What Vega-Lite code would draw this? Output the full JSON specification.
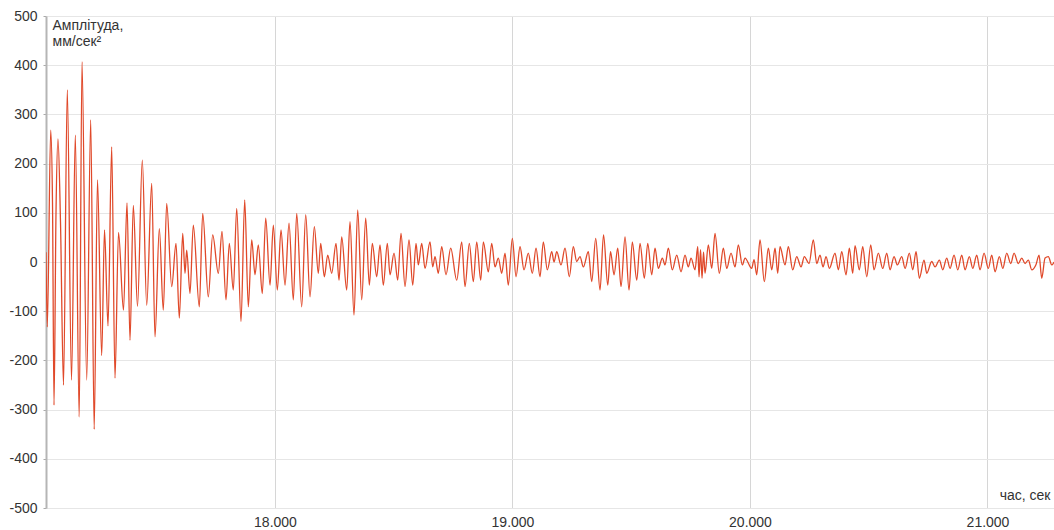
{
  "$schema": "https://vega.github.io/schema/vega-lite/v6.json",
  "width": 1008,
  "height": 492,
  "autosize": {"type": "none"},
  "padding": {"left": 46, "top": 16, "right": 0, "bottom": 22},
  "background": "#ffffff",
  "config": {
    "view": {"stroke": null},
    "font": "Liberation Sans",
    "axis": {"labelFont": "Liberation Sans", "titleFont": "Liberation Sans", "labelFontSize": 14, "labelColor": "#333333", "titleColor": "#333333", "titleFontWeight": "normal", "titleFontSize": 14}
  },
  "data": {"values": [
    {"t":17.0360,"v":20},{"t":17.0415,"v":-132},{"t":17.0558,"v":268},{"t":17.0634,"v":120},{"t":17.0697,"v":-291},
    {"t":17.0781,"v":100},{"t":17.0865,"v":250},{"t":17.0971,"v":80},{"t":17.1097,"v":-250},{"t":17.1257,"v":350},
    {"t":17.1434,"v":-240},{"t":17.1594,"v":258},{"t":17.1758,"v":-315},{"t":17.1876,"v":407},{"t":17.2074,"v":-240},
    {"t":17.2242,"v":289},{"t":17.2389,"v":-340},{"t":17.2528,"v":167},{"t":17.2705,"v":-190},{"t":17.2823,"v":65},
    {"t":17.2971,"v":-130},{"t":17.3126,"v":234},{"t":17.3265,"v":-236},{"t":17.3413,"v":60},{"t":17.3623,"v":-98},
    {"t":17.3771,"v":120},{"t":17.3897,"v":-159},{"t":17.4036,"v":115},{"t":17.4213,"v":-90},{"t":17.4415,"v":207},
    {"t":17.4600,"v":-88},{"t":17.4811,"v":160},{"t":17.4949,"v":-152},{"t":17.5131,"v":68},{"t":17.5299,"v":-98},
    {"t":17.5442,"v":119},{"t":17.5653,"v":-50},{"t":17.5834,"v":38},{"t":17.5973,"v":-114},{"t":17.6116,"v":58},
    {"t":17.6213,"v":-23},{"t":17.6284,"v":24},{"t":17.6423,"v":-64},{"t":17.6562,"v":75},{"t":17.6815,"v":-91},
    {"t":17.6958,"v":99},{"t":17.7194,"v":-71},{"t":17.7379,"v":55},{"t":17.7615,"v":-23},{"t":17.7771,"v":62},
    {"t":17.7939,"v":-77},{"t":17.8078,"v":38},{"t":17.8246,"v":-57},{"t":17.8390,"v":109},{"t":17.8571,"v":-121},
    {"t":17.8726,"v":126},{"t":17.8878,"v":-91},{"t":17.9021,"v":45},{"t":17.9160,"v":-26},{"t":17.9299,"v":35},
    {"t":17.9467,"v":-64},{"t":17.9611,"v":89},{"t":17.9792,"v":-47},{"t":17.9931,"v":75},{"t":18.0099,"v":-57},
    {"t":18.0255,"v":65},{"t":18.0423,"v":-47},{"t":18.0592,"v":79},{"t":18.0773,"v":-77},{"t":18.0916,"v":99},
    {"t":18.1126,"v":-91},{"t":18.1295,"v":96},{"t":18.1476,"v":-71},{"t":18.1657,"v":72},{"t":18.1825,"v":-23},
    {"t":18.1926,"v":38},{"t":18.2078,"v":-30},{"t":18.2221,"v":14},{"t":18.2389,"v":-23},{"t":18.2571,"v":38},
    {"t":18.2697,"v":-37},{"t":18.2810,"v":51},{"t":18.3021,"v":-57},{"t":18.3160,"v":82},{"t":18.3328,"v":-108},
    {"t":18.3484,"v":106},{"t":18.3653,"v":-77},{"t":18.3821,"v":89},{"t":18.3973,"v":-47},{"t":18.4099,"v":38},
    {"t":18.4284,"v":-30},{"t":18.4423,"v":35},{"t":18.4562,"v":-47},{"t":18.4731,"v":38},{"t":18.4844,"v":-26},
    {"t":18.5013,"v":18},{"t":18.5168,"v":-37},{"t":18.5307,"v":58},{"t":18.5476,"v":-50},{"t":18.5644,"v":45},
    {"t":18.5800,"v":-47},{"t":18.5939,"v":38},{"t":18.6036,"v":-6},{"t":18.6179,"v":38},{"t":18.6318,"v":-13},
    {"t":18.6528,"v":41},{"t":18.6642,"v":-10},{"t":18.6739,"v":11},{"t":18.6878,"v":-23},{"t":18.7021,"v":31},
    {"t":18.7202,"v":-26},{"t":18.7400,"v":28},{"t":18.7653,"v":-37},{"t":18.7863,"v":41},{"t":18.8002,"v":-50},
    {"t":18.8183,"v":38},{"t":18.8352,"v":-40},{"t":18.8495,"v":41},{"t":18.8663,"v":-37},{"t":18.8773,"v":41},
    {"t":18.8983,"v":-20},{"t":18.9126,"v":38},{"t":18.9265,"v":-10},{"t":18.9404,"v":8},{"t":18.9547,"v":-23},
    {"t":18.9686,"v":18},{"t":18.9825,"v":-47},{"t":18.9994,"v":48},{"t":19.0150,"v":-30},{"t":19.0318,"v":31},
    {"t":19.0486,"v":-16},{"t":19.0667,"v":18},{"t":19.0836,"v":-23},{"t":19.0992,"v":28},{"t":19.1160,"v":-30},
    {"t":19.1299,"v":41},{"t":19.1467,"v":-16},{"t":19.1653,"v":21},{"t":19.1750,"v":0},{"t":19.1863,"v":21},
    {"t":19.2044,"v":-6},{"t":19.2213,"v":28},{"t":19.2394,"v":-30},{"t":19.2562,"v":31},{"t":19.2705,"v":1},
    {"t":19.2844,"v":11},{"t":19.2983,"v":-10},{"t":19.3194,"v":21},{"t":19.3337,"v":-40},{"t":19.3505,"v":48},
    {"t":19.3686,"v":-57},{"t":19.3834,"v":55},{"t":19.4011,"v":-47},{"t":19.4128,"v":21},{"t":19.4276,"v":-26},
    {"t":19.4432,"v":28},{"t":19.4571,"v":-50},{"t":19.4739,"v":51},{"t":19.4907,"v":-57},{"t":19.5046,"v":41},
    {"t":19.5232,"v":-37},{"t":19.5371,"v":38},{"t":19.5552,"v":-33},{"t":19.5695,"v":38},{"t":19.5863,"v":-26},
    {"t":19.6002,"v":28},{"t":19.6141,"v":-13},{"t":19.6310,"v":8},{"t":19.6423,"v":-6},{"t":19.6562,"v":28},
    {"t":19.6731,"v":-16},{"t":19.6916,"v":14},{"t":19.7097,"v":-20},{"t":19.7265,"v":14},{"t":19.7404,"v":-10},
    {"t":19.7518,"v":8},{"t":19.7686,"v":-16},{"t":19.7800,"v":31},{"t":19.7855,"v":-30},{"t":19.7918,"v":25},
    {"t":19.7981,"v":-33},{"t":19.8044,"v":20},{"t":19.8107,"v":-23},{"t":19.8246,"v":35},{"t":19.8390,"v":-13},
    {"t":19.8528,"v":58},{"t":19.8709,"v":-23},{"t":19.8878,"v":28},{"t":19.9021,"v":-13},{"t":19.9202,"v":18},
    {"t":19.9371,"v":-10},{"t":19.9509,"v":35},{"t":19.9678,"v":-6},{"t":19.9792,"v":8},{"t":20.0074,"v":-13},
    {"t":20.0171,"v":5},{"t":20.0284,"v":-26},{"t":20.0423,"v":45},{"t":20.0604,"v":-40},{"t":20.0773,"v":28},
    {"t":20.0916,"v":-16},{"t":20.1055,"v":28},{"t":20.1168,"v":-23},{"t":20.1265,"v":31},{"t":20.1476,"v":-6},
    {"t":20.1615,"v":31},{"t":20.1800,"v":-16},{"t":20.1968,"v":11},{"t":20.2150,"v":-10},{"t":20.2288,"v":11},
    {"t":20.2486,"v":-3},{"t":20.2667,"v":45},{"t":20.2811,"v":-3},{"t":20.2949,"v":14},{"t":20.3076,"v":-10},
    {"t":20.3202,"v":11},{"t":20.3341,"v":-13},{"t":20.3581,"v":18},{"t":20.3720,"v":-16},{"t":20.3863,"v":21},
    {"t":20.4044,"v":-26},{"t":20.4183,"v":28},{"t":20.4326,"v":-23},{"t":20.4423,"v":33},{"t":20.4604,"v":-16},
    {"t":20.4747,"v":31},{"t":20.4916,"v":-30},{"t":20.5084,"v":35},{"t":20.5223,"v":-16},{"t":20.5404,"v":18},
    {"t":20.5590,"v":-13},{"t":20.5758,"v":18},{"t":20.5897,"v":-16},{"t":20.6065,"v":11},{"t":20.6204,"v":-6},
    {"t":20.6390,"v":11},{"t":20.6528,"v":-13},{"t":20.6709,"v":18},{"t":20.6853,"v":-16},{"t":20.6992,"v":21},
    {"t":20.7131,"v":-33},{"t":20.7328,"v":4},{"t":20.7442,"v":-23},{"t":20.7653,"v":1},{"t":20.7792,"v":-10},
    {"t":20.7973,"v":4},{"t":20.8116,"v":-16},{"t":20.8284,"v":8},{"t":20.8423,"v":-13},{"t":20.8592,"v":14},
    {"t":20.8747,"v":-16},{"t":20.8916,"v":14},{"t":20.9055,"v":-16},{"t":20.9236,"v":11},{"t":20.9379,"v":-13},
    {"t":20.9547,"v":14},{"t":20.9686,"v":-16},{"t":20.9855,"v":18},{"t":21.0036,"v":-13},{"t":21.0179,"v":14},
    {"t":21.0318,"v":-20},{"t":21.0499,"v":11},{"t":21.0642,"v":-13},{"t":21.0811,"v":18},{"t":21.0979,"v":-3},
    {"t":21.1118,"v":18},{"t":21.1299,"v":-3},{"t":21.1442,"v":8},{"t":21.1581,"v":-3},{"t":21.1720,"v":4},
    {"t":21.1863,"v":-16},{"t":21.2044,"v":-5},{"t":21.2171,"v":14},{"t":21.2284,"v":-33},{"t":21.2423,"v":8},
    {"t":21.2562,"v":11},{"t":21.2705,"v":-6},{"t":21.2802,"v":0}
  ]},
  "mark": {"type": "line", "color": "#e0492a", "strokeWidth": 1.3, "interpolate": "monotone", "clip": true},
  "encoding": {
    "x": {
      "field": "t", "type": "quantitative",
      "scale": {"domain": [17.036, 21.28], "nice": false, "zero": false},
      "axis": {
        "values": [18, 19, 20, 21], "format": ".3f",
        "domain": false, "ticks": false, "labelPadding": 7,
        "grid": true, "gridColor": "#d6d6d6", "gridWidth": 1,
        "title": "час, сек", "titleAnchor": "end", "titleAlign": "right",
        "titleX": 1004, "titleY": -6, "titleBaseline": "bottom"
      }
    },
    "y": {
      "field": "v", "type": "quantitative",
      "scale": {"domain": [-500, 500], "nice": false},
      "axis": {
        "values": [-500, -400, -300, -200, -100, 0, 100, 200, 300, 400, 500],
        "labelExpr": "'' + datum.value",
        "domain": true, "domainColor": "#b5b5b5", "domainWidth": 2,
        "ticks": true, "tickSize": 3, "tickColor": "#aaaaaa", "labelPadding": 6,
        "grid": true, "gridColor": "#e6e6e6", "gridWidth": 1,
        "title": ["Амплітуда,", "мм/сек²"], "titleAngle": 0,
        "titleAlign": "left", "titleBaseline": "top", "titleX": 6, "titleY": 2,
        "titleLineHeight": 16
      }
    }
  }
}
